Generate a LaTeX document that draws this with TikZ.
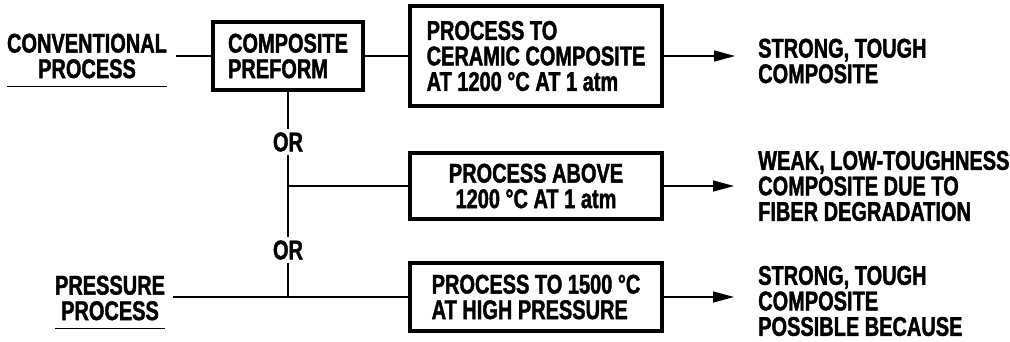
\documentclass[tikz,border=0pt]{standalone}
\usepackage{fontspec}
\setmainfont{Liberation Sans}[FakeStretch=0.74, FakeBold=1.5]
\usepackage{tikz}
\usetikzlibrary{
    arrows.meta,
    positioning
}
\newcommand{\figtext}{\fontsize{27}{25.5}\selectfont\bfseries}
\tikzstyle{stagebox} = [
    rectangle,
    draw=black,
    line width=4pt,
    outer sep=0pt,
    inner ysep=0pt,
    minimum width=252pt,
    align=left,
    font=\figtext
]
\tikzstyle{outcome} = [
    inner sep=0pt,
    align=left,
    anchor=west,
    font=\figtext
]
\tikzstyle{route} = [
    inner sep=0pt,
    align=center,
    font=\figtext
]
\tikzstyle{orword} = [
    inner sep=3pt,
    font=\figtext
]
\tikzstyle{link} = [
    line width=1.4pt,
    draw=black
]
\tikzstyle{arrow} = [
    -{Triangle[length=21pt,width=11pt]},
    line width=1.4pt,
    draw=black
]
\tikzstyle{underline} = [
    line width=1pt,
    draw=black
]

\begin{document}
\begin{tikzpicture}[x=1pt, y=-1pt]
        \useasboundingbox (0,0) rectangle (1010,341);

        % Process routes
        \node[route] (conv) at (87,56) {CONVENTIONAL\\PROCESS};
        \node[route] (press) at (110,298) {PRESSURE\\PROCESS};
        \draw[underline] ([yshift=-8pt]conv.south west) -- ([yshift=-8pt]conv.south east);
        \draw[underline] ([yshift=-8pt]press.south west) -- ([yshift=-8pt]press.south east);

        % Stages
        \node[stagebox, minimum width=150pt, minimum height=68pt] (preform) at (288,56) {COMPOSITE\\PREFORM};
        \node[stagebox, minimum height=100pt, right=47pt of preform] (proc1) {PROCESS TO\\CERAMIC COMPOSITE\\AT 1200 °C AT 1 atm};
        \node[stagebox, minimum height=66pt, align=center] (proc2) at (536,186) {PROCESS ABOVE\\1200 °C AT 1 atm};
        \node[stagebox, minimum height=68pt] (proc3) at (536,297) {PROCESS TO 1500 °C\\AT HIGH PRESSURE};

        % Choices
        \node[orword] (or1) at (288,142) {OR};
        \node[orword] (or2) at (288,250) {OR};
        \coordinate (cstart) at (176,56);
        \coordinate (pstart) at (173,297);
        \coordinate (j1) at (288,186);
        \coordinate (j2) at (288,297);

        % Lines
        \draw[link] (cstart) -- (preform);
        \draw[link] (preform) -- (proc1);
        \draw[link] (preform) -- (or1);
        \draw[link] (or1) -- (or2);
        \draw[link] (j1) -- (proc2);
        \draw[link] (or2) -- (j2);
        \draw[link] (pstart) -- (proc3);

        % Results
        \coordinate (t1) at (735,56);
        \coordinate (t2) at (734,186);
        \coordinate (t3) at (734,297);
        \draw[arrow] (proc1) -- (t1);
        \draw[arrow] (proc2) -- (t2);
        \draw[arrow] (proc3) -- (t3);

        \node[outcome] (res1) at (758,61) {STRONG, TOUGH\\COMPOSITE};
        \node[outcome] (res2) at (758,186) {WEAK, LOW-TOUGHNESS\\COMPOSITE DUE TO\\FIBER DEGRADATION};
        \node[outcome] (res3) at (758,301) {STRONG, TOUGH\\COMPOSITE\\POSSIBLE BECAUSE};
    \end{tikzpicture}
\end{document}
